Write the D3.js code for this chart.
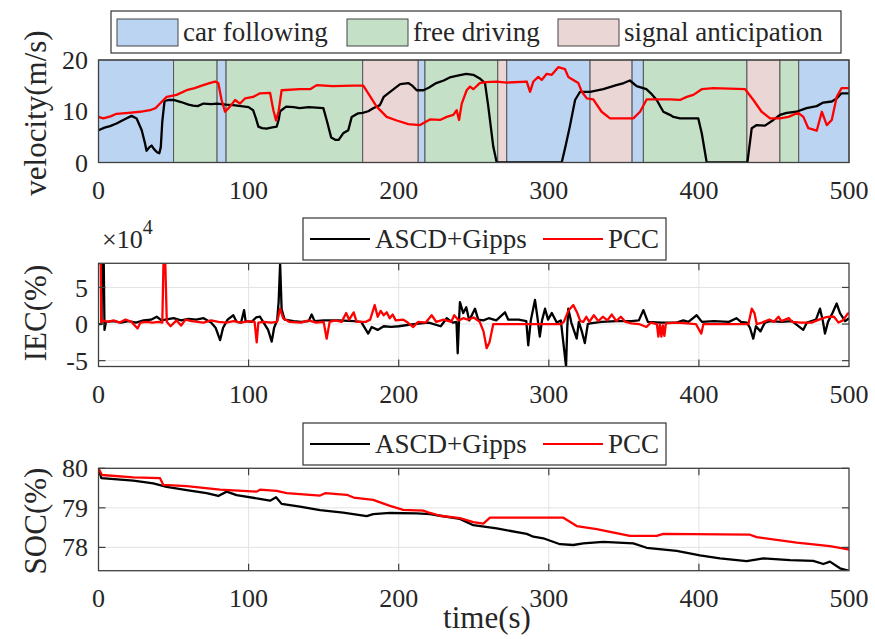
<!DOCTYPE html>
<html lang="en">
<head>
<meta charset="UTF-8">
<title>Velocity, IEC and SOC comparison</title>
<script src="https://d3js.org/d3.v7.min.js"></script>
<style>
  body { margin: 0; background: #fff; }
</style>
</head>
<body>
<svg id="chart"></svg>
<script>
// driving mode segments (start time, mode index), last one ends at 500 s
var modeNames = ["car following", "free driving", "signal anticipation"];
var modeColors = ["#bad4f1", "#c4e0c6", "#ebd6d6"];
var segStart = [0, 50, 79, 85, 176, 213, 217.5, 266, 272, 327.5, 355.5, 363, 432, 454, 466.5];
var segMode  = [0, 1, 0, 1, 2, 0, 1, 2, 0, 2, 0, 1, 2, 1, 0];

var seriesNames = ["ASCD+Gipps", "PCC"];
var xTicks = [0, 100, 200, 300, 400, 500];

// velocity (m/s) [time, value]
var velAscd = [[0,6.3],[4,6.8],[7.7,7.1],[12,7.6],[16.5,8.3],[22,9.1],[25.4,8.6],[28.8,6.3],[31,3.7],[32,2.3],[34,3.0],[35.4,3.3],[37,2.6],[39,2.0],[40.5,1.8],[41.5,3],[42.5,8],[44,12.0],[47,12.2],[50,12.2],[55,11.8],[60,11.3],[63,11.1],[66,11.0],[70,11.5],[75,11.4],[79,11.5],[85,11.3],[89.7,11.2],[95,11.0],[100,10.8],[103,10.2],[105,8.5],[106.5,7.0],[109,6.7],[112,6.6],[115,6.8],[118.7,7.0],[120,8.3],[121,10.0],[125,10.9],[130,10.8],[134,10.6],[140,10.8],[145,10.7],[149.8,10.6],[152,8.3],[155,4.9],[158,4.4],[160,4.4],[163,5.7],[166.4,6.3],[168.7,8.9],[173,9.6],[176,9.7],[179.7,10.0],[183,10.6],[187.5,11.2],[190,12.8],[193,13.5],[197.5,14.5],[201,15.3],[206.4,15.5],[209,15.0],[212,14.1],[216.4,14.1],[220,14.6],[225,15.5],[230,16.0],[234,16.6],[240,17.0],[245,17.3],[249.7,17.1],[254,16.4],[257.5,15.5],[259.7,10.9],[263,3.1],[265.3,0],[308.6,0],[311,3],[314,7],[317.5,12.2],[320.8,13.8],[327.5,13.8],[336.3,14.3],[345,15.1],[350,15.5],[354,16],[358.5,14.9],[365,14.3],[368,13.5],[371.9,12.2],[376.3,9.9],[380.7,9.3],[383,8.9],[387.4,8.6],[399.6,8.6],[401.9,5.7],[405.2,0],[432.3,0],[435.2,6.7],[438.5,7.3],[444,7.2],[449.6,8.3],[454,9.3],[458.5,9.7],[465,9.9],[471.7,10.6],[478.5,11],[482.8,11.7],[488.5,11.9],[491.8,12.5],[495,13.5],[500,13.5]];
var velPcc = [[0,8.9],[3.2,8.6],[8,9.0],[12,9.5],[20,9.7],[27.6,9.9],[34.3,10.2],[38,10.6],[41,11.5],[45.4,12.8],[52,13.2],[58.7,14.1],[64,14.5],[69.8,15.1],[74,15.5],[77.6,15.8],[79.8,15.5],[82,12.2],[84.3,9.9],[87.6,10.9],[91,12.2],[94.3,11.5],[97.6,12.5],[103,12.8],[107.6,13.5],[114.3,13.6],[116.5,10.2],[118.3,8.2],[120,10],[122,14.1],[134,14.3],[141,14.3],[145.4,15.1],[156,14.9],[170,15.0],[176.4,15.0],[179.7,13.5],[185.3,10.9],[192,8.9],[198.7,8.2],[206.4,7.5],[214.2,7.3],[220.8,8.4],[227.5,8.3],[232,8.9],[236.4,9.3],[238.6,10.2],[240.2,8.3],[242,11.5],[245.3,14.1],[247.5,14.8],[249.7,14.3],[254,15.5],[258,15.7],[265.3,15.8],[272,15.6],[285.3,15.8],[287.5,13.8],[289.7,15.8],[293,16.7],[295.3,16.1],[298.6,17.3],[302,17.1],[306.3,18.6],[310.8,18.2],[313,16.7],[316.3,16.1],[319.7,15.5],[322,13.8],[325.3,12.5],[329.6,12.3],[335.2,9.9],[340.8,8.6],[356.3,8.6],[360.8,9.9],[365.2,12.3],[380.7,12.3],[387.4,12.2],[391.9,12.8],[396.3,13.2],[401.9,14.3],[409.6,14.5],[430.8,14.3],[436.3,12.2],[441.8,9.9],[447.4,8.6],[454,8.6],[459.6,8.9],[466.2,9.7],[469.6,8.9],[472.9,6.7],[478.5,6.2],[481.9,9.9],[485.2,7.3],[488.5,8.3],[491.8,12.8],[495,14.5],[500,14.5]];

// IEC (x 1e4 %) [time, value]
var iecAscd = [[0,0],[2,0],[2.3,8.3],[3.5,8.3],[4,-0.8],[5,0.3],[10,0.4],[15,0.2],[20,0.4],[25,0.2],[30,0.5],[35,0.6],[38.8,1.0],[42,0.5],[50,0.8],[55,0.5],[60,0.7],[65,0.6],[70,0.8],[75,0.2],[78,-0.5],[81,-2.2],[83,-0.5],[86,0.6],[89.8,1.2],[92,0.3],[95,0.2],[97,1.9],[98,0.4],[102,0.3],[105,0.9],[107.6,1.0],[110,0.2],[113,-0.8],[115.4,-2.4],[117,-0.5],[119,0.5],[120,3],[121,8.3],[122,2],[124,0.6],[130,0.4],[135,0.3],[140,0.4],[142,1.3],[144,0.4],[150,0.5],[160,0.5],[170,0.4],[175,0.3],[179.7,-1.3],[182,-0.4],[186,-0.8],[190,-0.3],[195,-0.4],[200,-0.3],[210,0.0],[220,0.2],[228,-0.3],[232,0.8],[236,0.2],[238.5,0.3],[239.3,-4.0],[240.2,0.5],[240.8,3.0],[243,1.5],[245,2.3],[247,0.5],[250.8,2.1],[253,0.6],[256.4,0.5],[260,0.8],[265,0.5],[270.8,1.6],[273,0.6],[280,0.6],[285,0.4],[286.3,-2.9],[288,0.5],[290.8,3.3],[292.5,0.8],[294,-1.7],[295.5,0.5],[297.5,2.1],[299.5,0.6],[302,1.5],[305.3,0.2],[308,0.5],[311.5,-5.8],[312.3,-0.5],[313,2.1],[315,0.2],[318.6,-2.0],[320,0.3],[322,-1.0],[324,-2.6],[326,0.0],[327.5,0.1],[335,0.3],[345,0.4],[355,0.4],[360,0.5],[363,1.9],[366,0.3],[375,0.2],[385,0.2],[389.6,0.5],[393,0.3],[398.5,1.2],[402,0.3],[410,0.4],[420,0.3],[425,0.8],[428,0.3],[432,0.2],[434,-0.5],[436.2,-2.0],[438,-0.3],[441,-1.0],[444,0.2],[447.3,0.4],[455,0.3],[462,0.4],[469.5,-0.8],[472,0.2],[478,0.6],[480.7,2.1],[482.5,0.5],[484,-1.3],[486,0.3],[489,1.5],[491.8,2.8],[494,1.5],[497.4,0.4],[500,0.8]];
var iecPcc = [[0,8.3],[1.5,8.3],[1.8,0.2],[3,0.5],[6,0.3],[10,0.5],[14,0.2],[18,0.6],[22,0.3],[26,-0.6],[28,0.2],[32,0.3],[36,0.2],[40,0.3],[42.5,0.2],[43.3,8.3],[44.5,8.3],[45.5,0.3],[48,-0.3],[52,0.5],[55,-0.2],[58,0.6],[62,0.4],[66,0.3],[70,0.2],[75,0.5],[80,0.3],[85,0.2],[90,0.4],[95,0.2],[100,0.4],[104,0.3],[105.4,-2.5],[106.5,0.2],[110,0.3],[115,0.2],[119,0.3],[121,2.1],[123,0.8],[127,0.3],[135,0.2],[140,0.5],[145,0.2],[150,0.3],[152,-2.0],[154,0.3],[158,0.5],[162,0.3],[165,1.5],[167,0.6],[170,1.6],[172,0.3],[178,0.3],[181,0.6],[184,2.6],[186,1.0],[188,1.8],[190,1.2],[192,1.6],[194,0.8],[196,1.3],[198,0.5],[203,0.6],[206,0.2],[209.7,-0.4],[213,0.3],[218,0.2],[222,1.2],[225,0.3],[230,0.6],[235,0.3],[237,1.2],[240,0.5],[243,0.8],[246,0.6],[250,0.9],[254,0.3],[256.5,-1.0],[258.6,-3.3],[260.5,-2.5],[263,0],[308,0],[310,0.3],[313,1.8],[316.3,2.6],[319,1.5],[321,0.4],[323,0.3],[325,1.0],[327,0.3],[330,1.2],[333,0.4],[336,1.0],[339,0.5],[342,1.3],[345,0.4],[348,1.0],[351,0.3],[355,0.1],[360,0],[365,-0.4],[368,0.2],[372,0],[373,-1.7],[374,0],[375,-1.7],[376,-0.2],[377,-1.6],[378,0.1],[385,0.2],[392,0.1],[398,0],[401.6,-1.3],[403,0],[410,0],[425,0],[433,0],[435.2,2.1],[437,1.5],[438.5,0],[442,0.2],[447,0.6],[450,0.3],[453,1.0],[455,0.4],[460,0.8],[462,0.3],[468,0.2],[475,0.2],[480,0.6],[484,0.9],[487.3,1.0],[490,1.0],[493,0.2],[496,0.5],[499,1.4],[500,1.5]];

// SOC (%) [time, value]
var socAscd = [[0,80.0],[1.9,79.75],[23.2,79.69],[36.5,79.62],[45.4,79.53],[58.8,79.45],[72,79.37],[79.8,79.3],[85.4,79.41],[92,79.32],[105.4,79.24],[114.3,79.18],[118.3,79.27],[122,79.1],[134.2,79.03],[147.6,78.94],[163,78.88],[178.7,78.79],[183,78.84],[194.2,78.87],[212,78.86],[220.9,78.84],[227.5,78.8],[240.8,78.72],[249.7,78.56],[265.3,78.48],[285.3,78.34],[289.7,78.27],[296.3,78.23],[307.5,78.08],[316.3,78.06],[323,78.1],[336.3,78.14],[356.3,78.1],[365.2,77.99],[385.2,77.91],[400.7,77.8],[414,77.72],[431.8,77.65],[443,77.72],[460.7,77.68],[476.2,77.66],[482.9,77.58],[487.3,77.64],[494,77.47],[499.5,77.41],[500,77.41]];
var socPcc = [[0,80.0],[2.3,79.83],[23.2,79.77],[41,79.75],[43.2,79.58],[58.8,79.55],[81,79.46],[105.4,79.41],[107.6,79.46],[118.7,79.43],[125.4,79.37],[147.6,79.31],[151,79.37],[165.4,79.33],[170,79.26],[183,79.2],[194.2,79.05],[203,78.95],[216.4,78.93],[220.9,78.87],[227.5,78.8],[240.8,78.74],[249.7,78.64],[256.4,78.6],[260.8,78.75],[309.7,78.75],[318.6,78.54],[331.9,78.46],[354,78.29],[371.9,78.29],[376.3,78.34],[434,78.32],[438.5,78.26],[465.2,78.12],[487.3,78.03],[499.5,77.95],[500,77.93]];

var width = 875, height = 639;
var left = 98.5, right = 849;
var axisColor = "#404040", gridColor = "#e3e3e3", textColor = "#262626";
var fontFamily = "'Liberation Serif', 'Times New Roman', serif";
var lineColors = ["#000000", "#ff0000"];

var svg = d3.select("#chart").attr("width", width).attr("height", height);

var x = d3.scaleLinear().domain([0, 500]).range([left, right]);

function addText(sel, size) {
  return sel.append("text").attr("font-family", fontFamily).attr("font-size", size).attr("fill", textColor);
}

var panels = [
  { top: 60, bottom: 162.5, domain: [0, 20], ticks: [0, 10, 20], label: "velocity(m/s)", labelY: 113, grid: false,
    series: [velAscd, velPcc] },
  { top: 263.3, bottom: 366.5, domain: [-5.8, 8.3], ticks: [-5, 0, 5], label: "IEC(%)", labelY: 313, grid: true,
    series: [iecAscd, iecPcc] },
  { top: 468.3, bottom: 570.7, domain: [77.41, 80], ticks: [78, 79, 80], label: "SOC(%)", labelY: 521, grid: true,
    series: [socAscd, socPcc] }
];

panels.forEach(function(p, pi) {
  var y = d3.scaleLinear().domain(p.domain).range([p.bottom, p.top]);
  var g = svg.append("g");
  var clipId = "clip" + pi;
  svg.append("clipPath").attr("id", clipId)
    .append("rect").attr("x", left).attr("y", p.top)
    .attr("width", right - left).attr("height", p.bottom - p.top);

  g.append("rect").attr("x", left).attr("y", p.top)
    .attr("width", right - left).attr("height", p.bottom - p.top).attr("fill", "#fff");

  if (pi === 0) {
    // driving mode shading
    segStart.forEach(function(s, i) {
      var e = i < segStart.length - 1 ? segStart[i + 1] : 500;
      g.append("rect")
        .attr("x", x(s)).attr("y", p.top)
        .attr("width", x(e) - x(s)).attr("height", p.bottom - p.top)
        .attr("fill", modeColors[segMode[i]])
        .attr("stroke", "#555").attr("stroke-width", 1);
    });
  }

  if (p.grid) {
    g.selectAll(".gx").data(xTicks.slice(1, -1)).enter().append("line")
      .attr("x1", function(d) { return x(d); }).attr("x2", function(d) { return x(d); })
      .attr("y1", p.top).attr("y2", p.bottom)
      .attr("stroke", gridColor).attr("stroke-width", 1);
    g.selectAll(".gy").data(p.ticks.filter(function(d) { return y(d) > p.top + 1; })).enter().append("line")
      .attr("x1", left).attr("x2", right)
      .attr("y1", function(d) { return y(d); }).attr("y2", function(d) { return y(d); })
      .attr("stroke", gridColor).attr("stroke-width", 1);
  }

  var line = d3.line().x(function(d) { return x(d[0]); }).y(function(d) { return y(d[1]); });
  p.series.forEach(function(s, si) {
    g.append("path").datum(s)
      .attr("clip-path", "url(#" + clipId + ")")
      .attr("fill", "none")
      .attr("stroke", lineColors[si])
      .attr("stroke-width", 2.3)
      .attr("stroke-linejoin", "round")
      .attr("d", line);
  });

  // tick marks (inside, on all sides) for the gridded panels
  if (p.grid) {
    var tl = 7;
    xTicks.slice(1, -1).forEach(function(t) {
      g.append("line").attr("x1", x(t)).attr("x2", x(t)).attr("y1", p.bottom).attr("y2", p.bottom - tl)
        .attr("stroke", axisColor).attr("stroke-width", 1.2);
      g.append("line").attr("x1", x(t)).attr("x2", x(t)).attr("y1", p.top).attr("y2", p.top + tl)
        .attr("stroke", axisColor).attr("stroke-width", 1.2);
    });
    p.ticks.forEach(function(t) {
      g.append("line").attr("x1", left).attr("x2", left + tl).attr("y1", y(t)).attr("y2", y(t))
        .attr("stroke", axisColor).attr("stroke-width", 1.2);
      g.append("line").attr("x1", right).attr("x2", right - tl).attr("y1", y(t)).attr("y2", y(t))
        .attr("stroke", axisColor).attr("stroke-width", 1.2);
    });
  }

  // box
  g.append("rect").attr("x", left).attr("y", p.top)
    .attr("width", right - left).attr("height", p.bottom - p.top)
    .attr("fill", "none").attr("stroke", axisColor).attr("stroke-width", 1.3);

  // tick labels
  xTicks.forEach(function(d) {
    addText(g, 26).attr("x", x(d)).attr("y", p.bottom + 36)
      .attr("text-anchor", "middle").text(d);
  });
  p.ticks.forEach(function(d) {
    addText(g, 26).attr("x", 88).attr("y", y(d)).attr("dy", "0.35em")
      .attr("text-anchor", "end").text(d);
  });

  addText(g, 31)
    .attr("transform", "translate(46," + p.labelY + ") rotate(-90)")
    .attr("text-anchor", "middle")
    .text(p.label);
});

// x10^4 exponent label
var expo = addText(svg, 26).attr("x", 102).attr("y", 248);
expo.append("tspan").text("\u00d710");
expo.append("tspan").attr("dy", -14).attr("font-size", 20).text("4");

// x axis label
addText(svg, 31).attr("x", 487).attr("y", 628).attr("text-anchor", "middle").text("time(s)");

// mode legend
var modeLeg = svg.append("g");
modeLeg.append("rect").attr("x", 111).attr("y", 11).attr("width", 730).attr("height", 42)
  .attr("fill", "#fff").attr("stroke", "#333").attr("stroke-width", 1.2);
var modeSwatchX = [117, 347, 558];
modeNames.forEach(function(n, i) {
  modeLeg.append("rect").attr("x", modeSwatchX[i]).attr("y", 19).attr("width", 61).attr("height", 27)
    .attr("fill", modeColors[i]).attr("stroke", "#444").attr("stroke-width", 1);
  addText(modeLeg, 27).attr("x", modeSwatchX[i] + 66).attr("y", 32).attr("dy", "0.35em").text(n);
});

// series legends for panels 2 and 3
[218, 423].forEach(function(ty) {
  var lg = svg.append("g");
  lg.append("rect").attr("x", 303).attr("y", ty).attr("width", 363).attr("height", 42)
    .attr("fill", "#fff").attr("stroke", "#333").attr("stroke-width", 1.2);
  var lx = [310, 543];
  seriesNames.forEach(function(n, i) {
    lg.append("line").attr("x1", lx[i]).attr("x2", lx[i] + 60)
      .attr("y1", ty + 21).attr("y2", ty + 21)
      .attr("stroke", lineColors[i]).attr("stroke-width", 2.2);
    addText(lg, 27).attr("x", lx[i] + 65).attr("y", ty + 21).attr("dy", "0.35em").text(n);
  });
});
</script>
</body>
</html>
